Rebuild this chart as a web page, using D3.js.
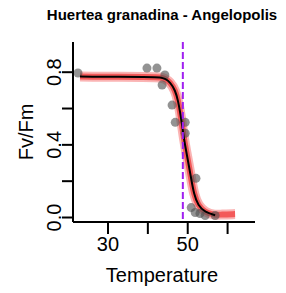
<!DOCTYPE html>
<html>
<head>
<meta charset="utf-8">
<script src="https://cdn.jsdelivr.net/npm/d3@7"></script>
<style>
  body { margin: 0; background: #fff; }
  svg { display: block; font-family: "Liberation Sans", Arial, sans-serif; }
</style>
</head>
<body>
<script>
const width = 286;
const height = 293;
const margin = ({top: 42, right: 31, bottom: 71, left: 73});

const title = "Huertea granadina - Angelopolis";
const xLabel = "Temperature";
const yLabel = "Fv/Fm";

// observed points
const pointTemp = [22.6, 39.9, 42.4, 44.4, 43.7, 46.2, 47.0, 49.5, 49.5, 52.2, 51.0, 52.0, 53.2, 54.5, 57.0];
const pointFv   = [0.793, 0.820, 0.820, 0.782, 0.727, 0.616, 0.521, 0.521, 0.461, 0.213, 0.052, 0.025, 0.019, 0.008, 0.008];

// fitted curve (black)
const curveTemp = [23.1, 41.9, 43.2, 44.4, 45.7, 47.0, 47.7, 48.2, 48.7, 49.2, 49.7, 50.2, 51.0, 51.7, 52.7, 54.5, 57.0];
const curveFv   = [0.773, 0.771, 0.769, 0.762, 0.743, 0.697, 0.640, 0.580, 0.506, 0.428, 0.367, 0.308, 0.210, 0.125, 0.064, 0.025, 0.010];

// red band continues a little further to the right
const tailTemp = [58.5, 62.0];
const tailFv   = [0.014, 0.016];

const t50 = 48.9;

const xTicks = [30, 40, 50, 60];
const xTickLabels = {30: "30", 50: "50"};
const yTicks = [0, 0.2, 0.4, 0.6, 0.8];
const yTickLabels = {0: "0.0", 0.4: "0.4", 0.8: "0.8"};

const x = d3.scaleLinear()
    .domain([21.35, 67.0])
    .range([margin.left, width - margin.right]);

const y = d3.scaleLinear()
    .domain([-0.0275, 0.9635])
    .range([height - margin.bottom, margin.top]);

const svg = d3.select("body")
    .append("svg")
    .attr("width", width)
    .attr("height", height);

const points = pointTemp.map((t, i) => ({t: t, v: pointFv[i]}));
const curve = curveTemp.map((t, i) => ({t: t, v: curveFv[i]}));
const band = curve.concat(tailTemp.map((t, i) => ({t: t, v: tailFv[i]})));

const line = d3.line()
    .x(d => x(d.t))
    .y(d => y(d.v))
    .curve(d3.curveBasis);

// red confidence band
svg.append("path")
    .datum(band)
    .attr("d", line)
    .attr("fill", "none")
    .attr("stroke", "rgba(240, 40, 40, 0.35)")
    .attr("stroke-width", 10)
    .attr("stroke-linejoin", "round");

svg.append("path")
    .datum(band)
    .attr("d", line)
    .attr("fill", "none")
    .attr("stroke", "rgba(240, 40, 40, 0.65)")
    .attr("stroke-width", 6)
    .attr("stroke-linejoin", "round");

// points
svg.append("g")
    .selectAll("circle")
    .data(points)
    .join("circle")
    .attr("cx", d => x(d.t))
    .attr("cy", d => y(d.v))
    .attr("r", 4.5)
    .attr("fill", "rgba(80, 80, 80, 0.62)");

// fitted line
svg.append("path")
    .datum(curve)
    .attr("d", line)
    .attr("fill", "none")
    .attr("stroke", "#000")
    .attr("stroke-width", 2);

// T50 dashed line
svg.append("line")
    .attr("x1", x(t50)).attr("x2", x(t50))
    .attr("y1", margin.top).attr("y2", height - margin.bottom)
    .attr("stroke", "#a020f0")
    .attr("stroke-width", 2)
    .attr("stroke-dasharray", "7,3");

// axes (L box)
const xAxis = svg.append("g")
    .attr("transform", `translate(0,${height - margin.bottom})`)
    .call(d3.axisBottom(x)
        .tickValues(xTicks)
        .tickSize(12)
        .tickPadding(3)
        .tickFormat(d => xTickLabels[d] || ""));

const yAxis = svg.append("g")
    .attr("transform", `translate(${margin.left},0)`)
    .call(d3.axisLeft(y)
        .tickValues(yTicks)
        .tickSize(11)
        .tickFormat(d => yTickLabels[d] || ""));

xAxis.select(".domain").attr("d", `M${margin.left},0H${width - margin.right}`);
yAxis.select(".domain").attr("d", `M0,${margin.top}V${height - margin.bottom}`);

[xAxis, yAxis].forEach(g => {
    g.selectAll(".domain, .tick line").attr("stroke", "#000").attr("stroke-width", 2);
    g.selectAll("text").attr("font-size", 20).attr("fill", "#000")
        .attr("font-family", '"Liberation Sans", Arial, sans-serif');
});

yAxis.selectAll(".tick text")
    .attr("x", null)
    .attr("dy", null)
    .attr("text-anchor", "middle")
    .attr("transform", "translate(-12,0) rotate(-90)");

// titles
svg.append("text")
    .attr("x", 162)
    .attr("y", 20)
    .attr("text-anchor", "middle")
    .attr("font-size", 15)
    .attr("font-weight", "bold")
    .text(title);

svg.append("text")
    .attr("x", 162)
    .attr("y", 282)
    .attr("text-anchor", "middle")
    .attr("font-size", 20)
    .text(xLabel);

svg.append("text")
    .attr("transform", `translate(33,${(margin.top + height - margin.bottom) / 2}) rotate(-90)`)
    .attr("text-anchor", "middle")
    .attr("font-size", 20)
    .text(yLabel);
</script>
</body>
</html>
